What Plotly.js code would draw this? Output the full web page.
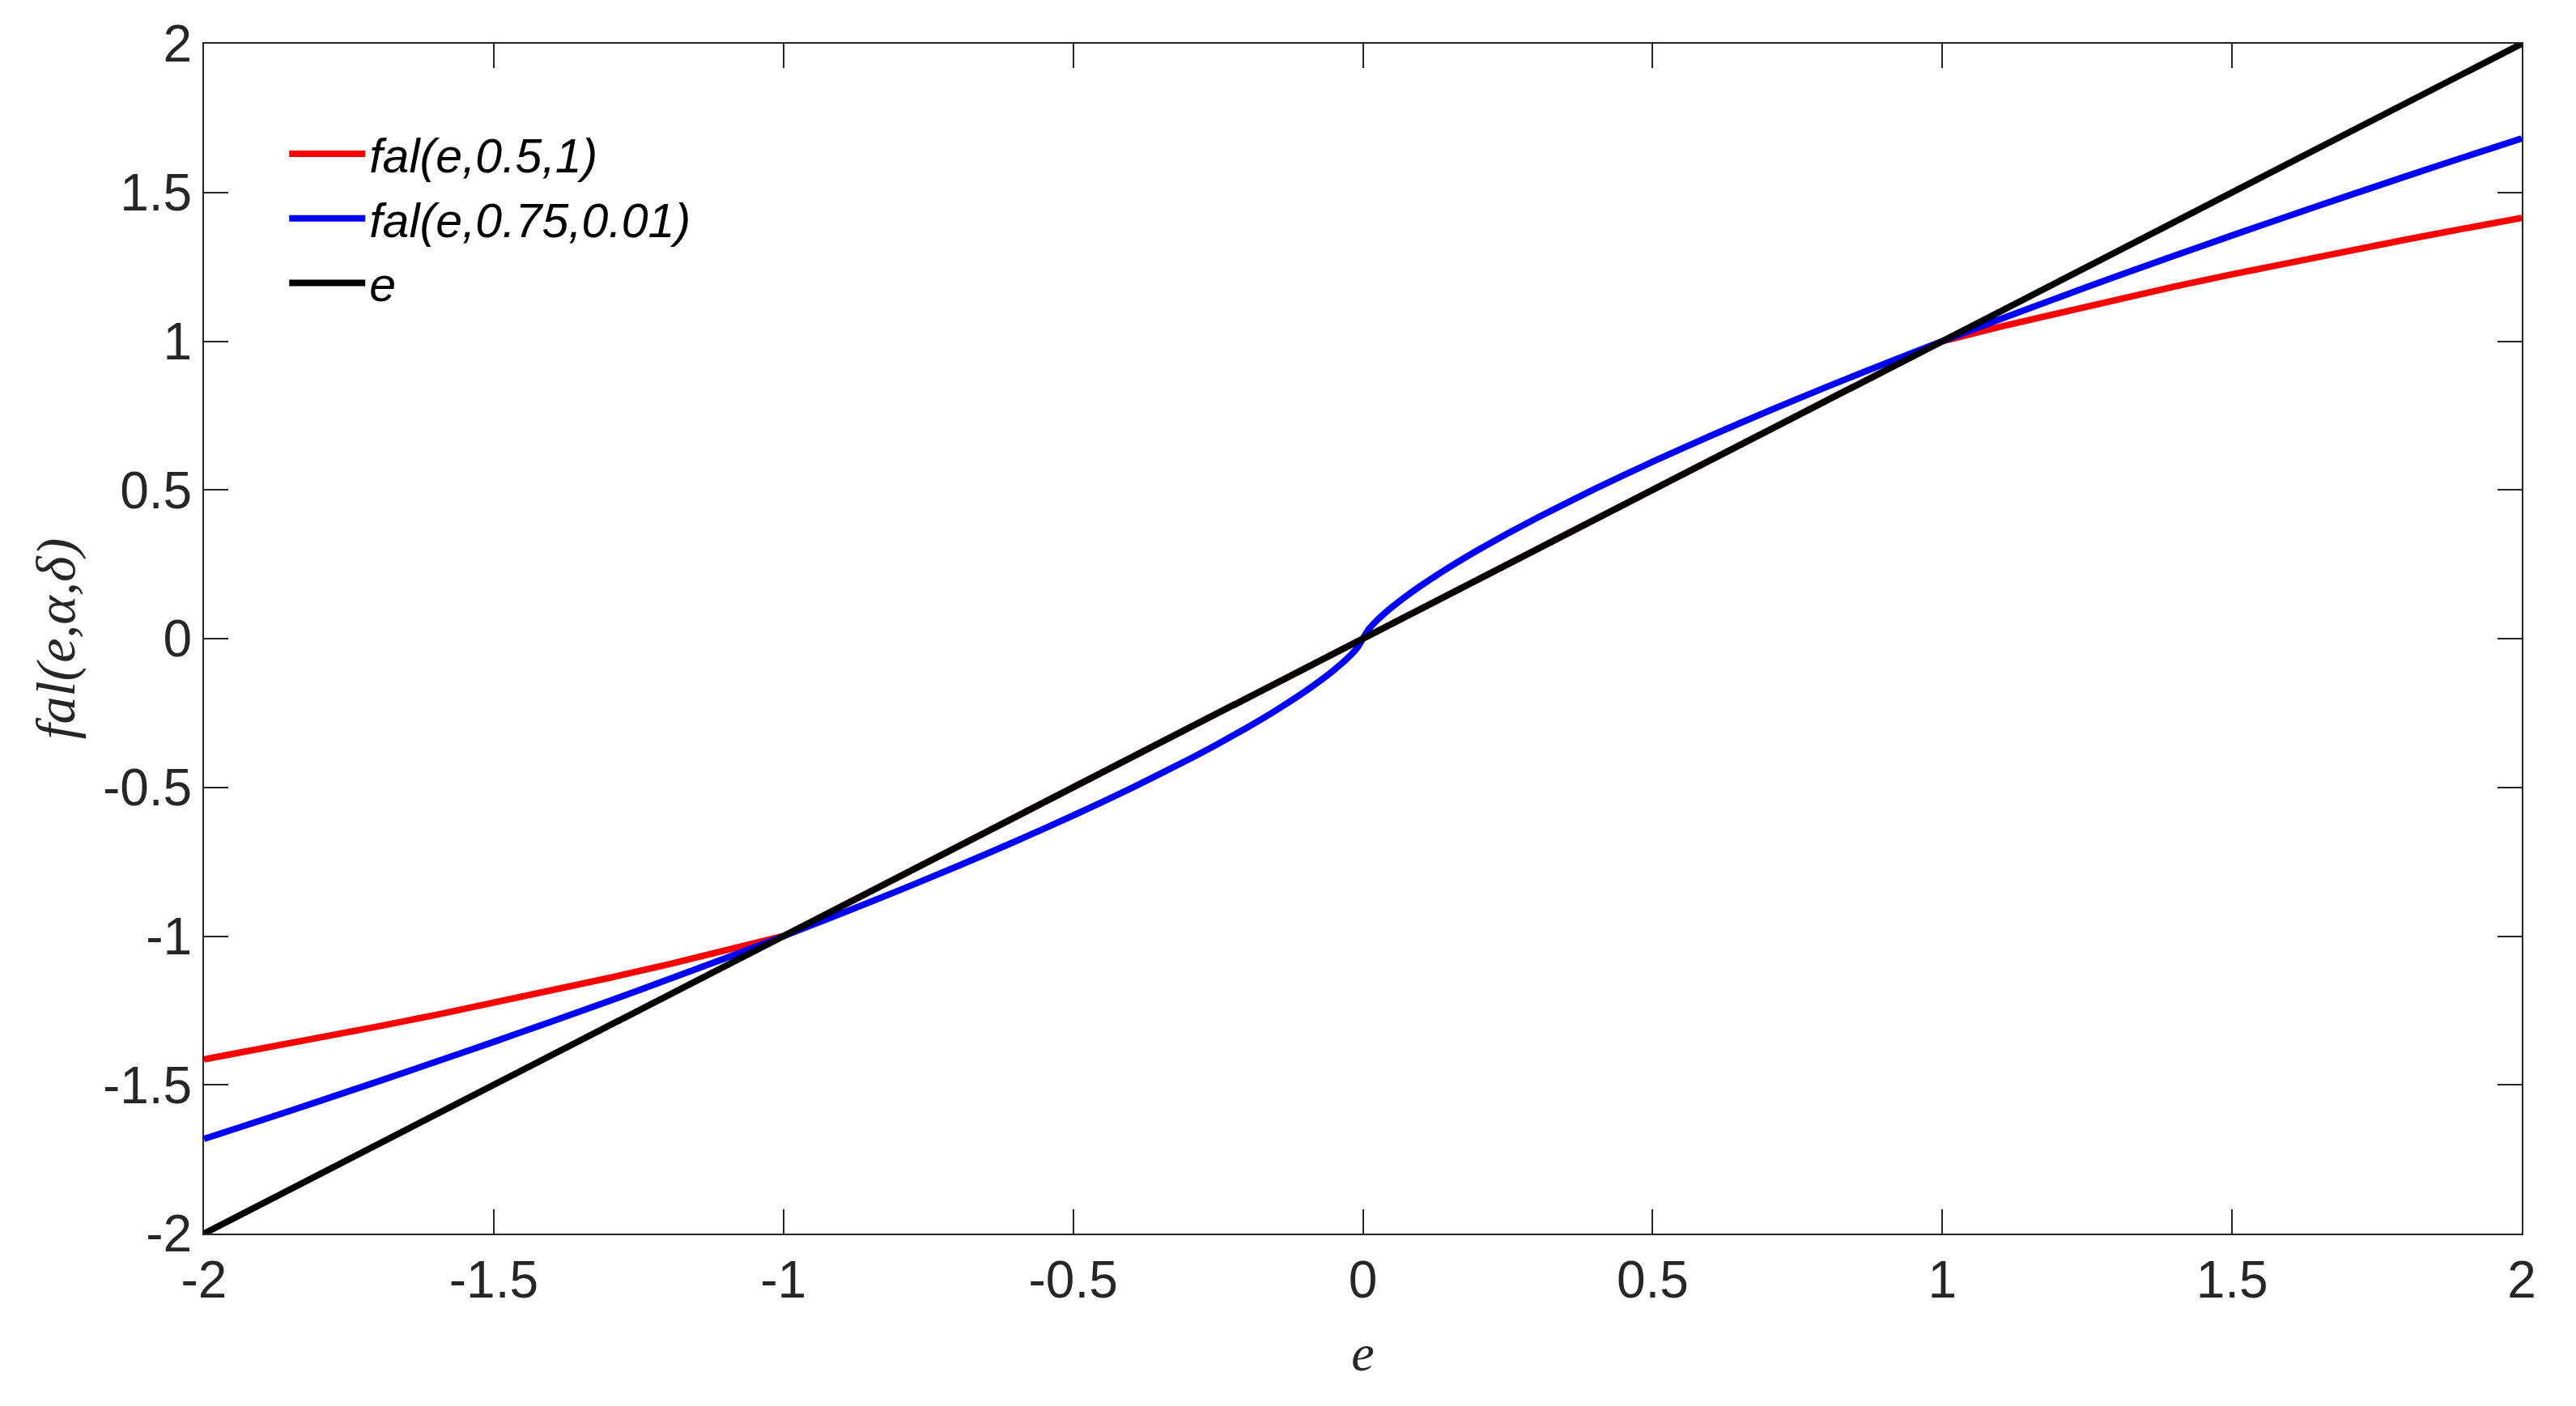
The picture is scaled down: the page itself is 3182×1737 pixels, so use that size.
<!DOCTYPE html>
<html>
<head>
<meta charset="utf-8">
<script src="https://cdn.plot.ly/plotly-3.0.1.min.js"></script>
<style>html,body{margin:0;padding:0;background:#fff;}#chart{width:3182px;height:1737px;}</style>
</head>
<body>
<div id="chart"></div>
<script>
// e values (x axis)
const eValues = [-2, -1.9, -1.8, -1.7, -1.6, -1.5, -1.4, -1.3, -1.2, -1.1, -1, -0.9, -0.8, -0.7, -0.6, -0.5, -0.4, -0.3, -0.25, -0.2, -0.15, -0.1, -0.07, -0.05, -0.04, -0.03, -0.02, -0.01, 0,
                 0.01, 0.02, 0.03, 0.04, 0.05, 0.07, 0.1, 0.15, 0.2, 0.25, 0.3, 0.4, 0.5, 0.6, 0.7, 0.8, 0.9, 1, 1.1, 1.2, 1.3, 1.4, 1.5, 1.6, 1.7, 1.8, 1.9, 2];
// fal(e,0.5,1)
const falRed = [-1.4142, -1.3784, -1.3416, -1.3038, -1.2649, -1.2247, -1.1832, -1.1402, -1.0954, -1.0488, -1, -0.9, -0.8, -0.7, -0.6, -0.5, -0.4, -0.3, -0.25, -0.2, -0.15, -0.1, -0.07, -0.05, -0.04, -0.03, -0.02, -0.01, 0,
                0.01, 0.02, 0.03, 0.04, 0.05, 0.07, 0.1, 0.15, 0.2, 0.25, 0.3, 0.4, 0.5, 0.6, 0.7, 0.8, 0.9, 1, 1.0488, 1.0954, 1.1402, 1.1832, 1.2247, 1.2649, 1.3038, 1.3416, 1.3784, 1.4142];
// fal(e,0.75,0.01)
const falBlue = [-1.6818, -1.6183, -1.5540, -1.4888, -1.4226, -1.3554, -1.2871, -1.2175, -1.1465, -1.0741, -1, -0.9240, -0.8459, -0.7653, -0.6817, -0.5946, -0.5030, -0.4054, -0.3536, -0.2991, -0.2410, -0.1778, -0.1361, -0.1057, -0.0894, -0.0721, -0.0532, -0.0316, 0,
                 0.0316, 0.0532, 0.0721, 0.0894, 0.1057, 0.1361, 0.1778, 0.2410, 0.2991, 0.3536, 0.4054, 0.5030, 0.5946, 0.6817, 0.7653, 0.8459, 0.9240, 1, 1.0741, 1.1465, 1.2175, 1.2871, 1.3554, 1.4226, 1.4888, 1.5540, 1.6183, 1.6818];
// identity e
const lineX = [-2, 2];
const lineY = [-2, 2];

const seriesNames = ['fal(e,0.5,1)', 'fal(e,0.75,0.01)', 'e'];
const tickVals = [-2, -1.5, -1, -0.5, 0, 0.5, 1, 1.5, 2];
const tickText = ['-2', '-1.5', '-1', '-0.5', '0', '0.5', '1', '1.5', '2'];
const xTitle = 'e';
const yTitle = 'fal(e,α,δ)';

const axisColor = '#262626';
const tickFont = {family: 'Liberation Sans, Arial, sans-serif', size: 64, color: axisColor};
const xTitleFont = {family: 'Liberation Serif, Times New Roman, serif', size: 64, color: axisColor, style: 'italic'};
const yTitleFont = {family: 'Liberation Serif, Times New Roman, serif', size: 68, color: axisColor, style: 'italic'};

const traces = [
  {x: eValues, y: falRed, name: seriesNames[0], mode: 'lines', line: {color: '#ff0000', width: 8}},
  {x: eValues, y: falBlue, name: seriesNames[1], mode: 'lines', line: {color: '#0000ff', width: 8, shape: 'spline', smoothing: 0.6}},
  {x: lineX, y: lineY, name: seriesNames[2], mode: 'lines', line: {color: '#000000', width: 8}}
];

const axisCommon = {
  range: [-2, 2], tickmode: 'array', tickvals: tickVals, ticktext: tickText,
  ticks: 'inside', ticklen: 30, tickwidth: 2, tickcolor: axisColor,
  showline: true, linecolor: axisColor, linewidth: 2, mirror: 'ticks',
  showgrid: false, zeroline: false, tickfont: tickFont
};

const layout = {
  width: 3182, height: 1737,
  margin: {l: 252, r: 67, t: 54, b: 213},
  paper_bgcolor: '#ffffff', plot_bgcolor: '#ffffff',
  showlegend: true,
  legend: {
    x: 0.035, y: 0.938, xanchor: 'left', yanchor: 'top',
    bgcolor: 'rgba(0,0,0,0)', borderwidth: 0,
    font: {family: 'Liberation Sans, Arial, sans-serif', size: 59, color: '#000000', style: 'italic'},
    itemwidth: 94, tracegroupgap: 0
  },
  xaxis: Object.assign({}, axisCommon, {title: {text: xTitle, font: xTitleFont, standoff: 32}}),
  yaxis: Object.assign({}, axisCommon, {title: {text: yTitle, font: yTitleFont, standoff: 12}})
};

Plotly.newPlot('chart', traces, layout, {displayModeBar: false, staticPlot: true});
</script>
</body>
</html>
